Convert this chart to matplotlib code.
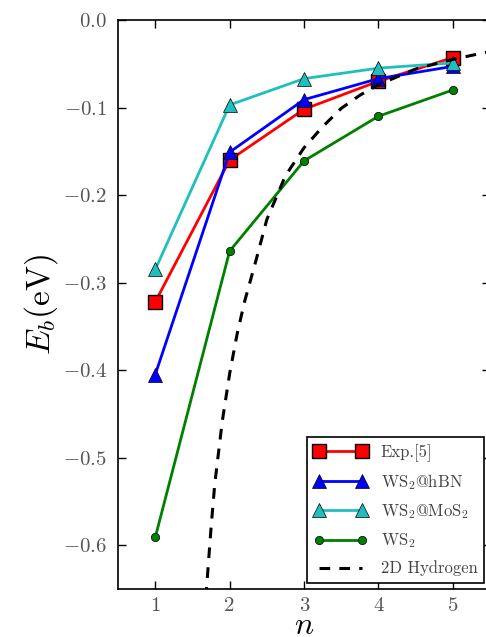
import numpy as np
import matplotlib
matplotlib.use("Agg")
import matplotlib.pyplot as plt

plt.rcParams["font.family"] = "serif"
plt.rcParams["font.serif"] = ["cmr10", "DejaVu Serif"]
plt.rcParams["mathtext.fontset"] = "cm"
plt.rcParams["axes.formatter.use_mathtext"] = True

n = [1, 2, 3, 4, 5]
exp5 = [-0.322, -0.160, -0.102, -0.070, -0.043]
ws2_hbn = [-0.405, -0.151, -0.091, -0.067, -0.053]
ws2_mos2 = [-0.285, -0.097, -0.067, -0.055, -0.049]
ws2 = [-0.591, -0.264, -0.161, -0.110, -0.080]

# dashed 2D hydrogen curve
n_h = [1.68, 1.75, 1.8, 1.9, 2.0, 2.1, 2.2, 2.35, 2.5, 2.75, 3.0, 3.25, 3.5,
       3.75, 4.0, 4.5, 5.0, 5.5]
e_h = [-0.66, -0.580, -0.530, -0.459, -0.404, -0.359, -0.322, -0.276, -0.228,
       -0.178, -0.146, -0.122, -0.101, -0.086, -0.074, -0.056, -0.045, -0.036]

fig = plt.figure(figsize=(4.86, 6.37), dpi=100)
ax = fig.add_axes([0.243, 0.0754, 0.765, 0.8932])

ax.plot(n, exp5, "-s", color="red", lw=2, ms=10, mec="black", mew=1, label="Exp.[5]")
ax.plot(n, ws2_hbn, "-^", color="blue", lw=2, ms=10, mec="black", mew=0.5,
        label=r"WS$_2$@hBN")
ax.plot(n, ws2_mos2, "-^", color="#1fbfbf", lw=2, ms=10, mec="black", mew=0.5,
        label=r"WS$_2$@MoS$_2$")
ax.plot(n, ws2, "-o", color="green", lw=2, ms=6, mec="black", mew=0.5,
        label=r"WS$_2$")
ax.plot(n_h, e_h, "--", color="black", lw=2.2, dashes=(3.5, 3), label="2D Hydrogen")

ax.set_xlim(0.5, 5.5)
ax.set_ylim(-0.65, 0.0)
ax.set_xticks(n)
ax.set_yticks([-0.6, -0.5, -0.4, -0.3, -0.2, -0.1, 0.0])
ax.set_yticklabels([r"$-0.6$", r"$-0.5$", r"$-0.4$", r"$-0.3$", r"$-0.2$",
                    r"$-0.1$", r"$0.0$"])
ax.set_xticklabels([str(v) for v in n])
ax.tick_params(direction="in", top=True, right=True, length=6, width=1,
               labelsize=15, labelcolor="#555555", pad=8)
ax.tick_params(axis="x", pad=6)
for sp in ax.spines.values():
    sp.set_linewidth(1.2)

# x label placed by hand, just under the tick labels as in the original
fig.text(304 / 486, 3 / 637, r"$n$", fontsize=23, ha="center", va="baseline")
ax.set_ylabel(r"$E_b\mathrm{(eV)}$", fontsize=24, labelpad=2)

leg = ax.legend(loc="lower right", numpoints=2, fontsize=12, fancybox=False,
                edgecolor="black", framealpha=1, handlelength=3.2,
                borderaxespad=0.35, labelspacing=0.62)
leg.get_frame().set_linewidth(1.2)
for t in leg.get_texts():
    t.set_color("#444444")

fig.savefig("out.png", dpi=100)
